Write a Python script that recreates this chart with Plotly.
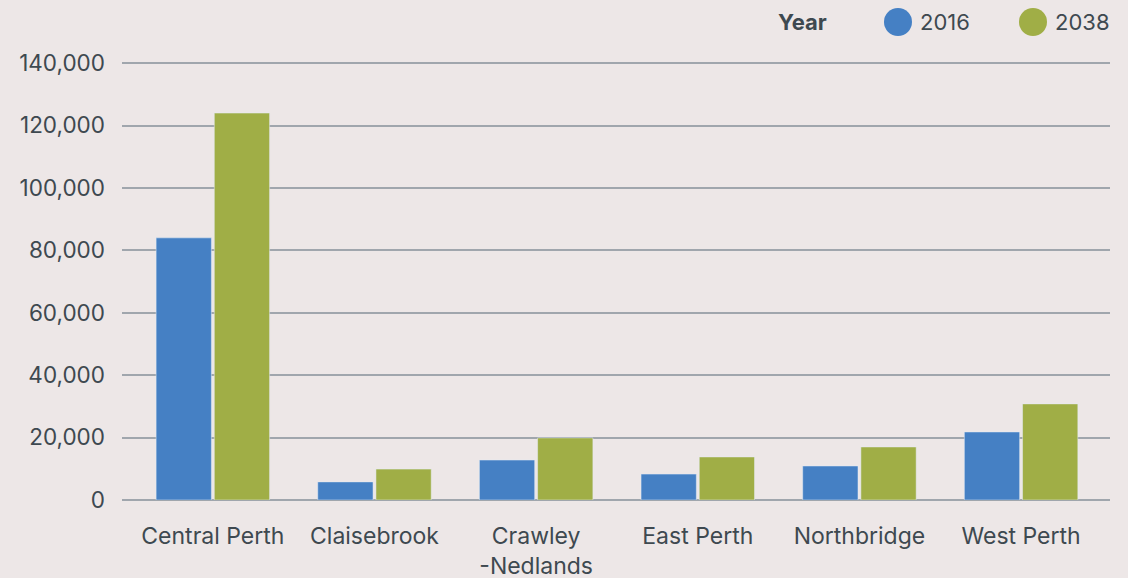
import plotly.graph_objects as go

categories = ["Central Perth", "Claisebrook", "Crawley<br>-Nedlands", "East Perth", "Northbridge", "West Perth"]
values_2016 = [84000, 5800, 12800, 8300, 10900, 21800]
values_2038 = [124000, 9900, 19900, 13800, 17000, 30800]
series_names = ["2016", "2038"]
y_ticks = [0, 20000, 40000, 60000, 80000, 100000, 120000, 140000]

BLUE = "#4580C4"
GREEN = "#A0AE46"
BG = "#EDE7E7"
TEXT = "#3E4950"
GRID = "#A0A6AD"
FONT = "Inter, Roboto, sans-serif"

fig = go.Figure()
fig.add_trace(go.Bar(x=categories, y=values_2016, name=series_names[0], marker_color=BLUE, showlegend=False))
fig.add_trace(go.Bar(x=categories, y=values_2038, name=series_names[1], marker_color=GREEN, showlegend=False))

W, H = 1128, 578
ml, mr, mt, mb = 122, 18, 60, 78
pw, ph = W - ml - mr, H - mt - mb

def px_x(x):
    return (x - ml) / pw

def px_y(y):
    return (H - mb - y) / ph

# custom legend (circles)
fig.add_annotation(x=px_x(829), y=px_y(22), xref="paper", yref="paper", text="<b>Year</b>",
                   showarrow=False, xanchor="right", yanchor="middle",
                   font=dict(family=FONT, size=22, color=TEXT))
for cx, col, name in [(898, BLUE, series_names[0]), (1033, GREEN, series_names[1])]:
    r = 14
    fig.add_shape(type="circle", xref="paper", yref="paper",
                  x0=px_x(cx - r), x1=px_x(cx + r), y0=px_y(22 + r), y1=px_y(22 - r),
                  fillcolor=col, line=dict(width=0))
    fig.add_annotation(x=px_x(cx + r + 6), y=px_y(22), xref="paper", yref="paper", text=name,
                       showarrow=False, xanchor="left", yanchor="middle",
                       font=dict(family=FONT, size=22, color=TEXT))

fig.update_layout(
    width=W, height=H,
    margin=dict(l=ml, r=mr, t=mt, b=mb),
    paper_bgcolor=BG, plot_bgcolor=BG,
    barmode="group", bargap=0.28, bargroupgap=0.05,
    font=dict(family=FONT, size=22, color=TEXT),
    showlegend=False,
    xaxis=dict(range=[-0.562, 5.55], showgrid=False, zeroline=False, showline=False,
               automargin=False, ticks="", ticklabelstandoff=20,
               tickfont=dict(size=23, color=TEXT)),
    yaxis=dict(range=[0, 141000], tickvals=y_ticks, tickformat=",d", automargin=False,
               showgrid=True, gridcolor=GRID, gridwidth=1.5, zeroline=True, zerolinecolor=GRID,
               zerolinewidth=2, showline=False, ticks="", ticklabelstandoff=16,
               tickfont=dict(size=22.5, color=TEXT)),
)

fig.write_html("out.html", config={"displayModeBar": False},
               post_script="document.body.style.margin='0';document.body.style.background='%s';" % BG)
